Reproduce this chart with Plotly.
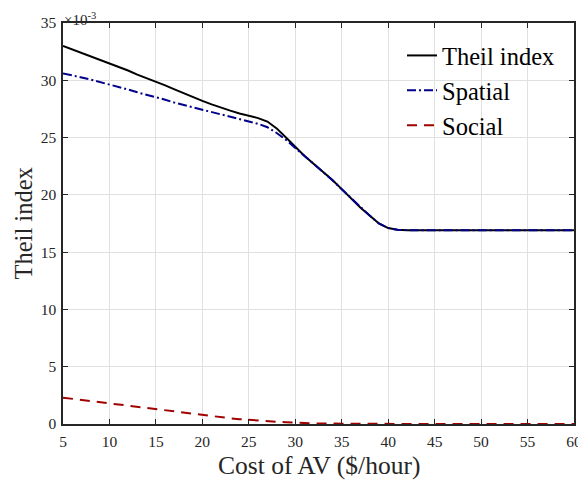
import plotly.graph_objects as go

cost = list(range(5, 61))
theil = [33.0, 32.7, 32.4, 32.1, 31.8, 31.5, 31.2, 30.85, 30.5, 30.2,
         29.9, 29.55, 29.2, 28.85, 28.5, 28.2, 27.9, 27.6, 27.35, 27.1,
         26.9, 26.7, 26.4, 25.8, 25.0, 24.2, 23.4, 22.7, 22.0, 21.3,
         20.5, 19.7, 18.9, 18.2, 17.5, 17.1, 16.95] + [16.9] * 19
spatial = [30.6, 30.45, 30.25, 30.05, 29.85, 29.6, 29.4, 29.2, 28.95, 28.75,
           28.5, 28.3, 28.05, 27.85, 27.6, 27.4, 27.2, 27.0, 26.8, 26.6,
           26.4, 26.2, 25.9, 25.4, 24.8, 24.1, 23.35, 22.65, 21.98, 21.28,
           20.49, 19.7, 18.9, 18.2, 17.5, 17.1, 16.95] + [16.9] * 19
social = [2.3, 2.2, 2.1, 2.0, 1.9, 1.8, 1.7, 1.55, 1.45, 1.35,
          1.25, 1.15, 1.05, 0.95, 0.85, 0.75, 0.65, 0.57, 0.5, 0.42,
          0.35, 0.3, 0.25, 0.2, 0.15, 0.1, 0.07, 0.05, 0.04, 0.03,
          0.02, 0.01] + [0.0] * 24
xticks = list(range(5, 61, 5))
yticks = list(range(0, 36, 5))

FONT = "Liberation Serif"
OFF = 8  # page body margin
L, R, T, B = 63 - OFF, 12, 23 - OFF, 59
W, H = 586 - OFF, 483 - OFF
PW, PH = W - L - R, H - T - B

fig = go.Figure()
fig.add_trace(go.Scatter(x=cost, y=theil, mode="lines", name="Theil index",
                         line=dict(color="black", width=2)))
fig.add_trace(go.Scatter(x=cost, y=spatial, mode="lines", name="Spatial",
                         line=dict(color="#00008B", width=2, dash="9px,3px,2px,3px")))
fig.add_trace(go.Scatter(x=cost, y=social, mode="lines", name="Social",
                         line=dict(color="#A00000", width=2, dash="10px,7px")))

axis_common = dict(showline=True, linecolor="#262626", linewidth=1.5, mirror="ticks",
                   ticks="inside", ticklen=5, tickcolor="#262626",
                   showgrid=True, gridcolor="#E0E0E0", gridwidth=1.2,
                   zeroline=False, automargin=False,
                   tickfont=dict(family=FONT, size=15.5, color="#262626"))

fig.update_layout(
    width=W, height=H,
    margin=dict(l=L, r=R, t=T, b=B),
    paper_bgcolor="white", plot_bgcolor="white",
    font=dict(family=FONT, color="#262626"),
    xaxis=dict(range=[5, 60], tickvals=xticks, ticklabelstandoff=3, **axis_common),
    yaxis=dict(range=[0, 35], tickvals=yticks, ticklabelstandoff=2, **axis_common),
    legend=dict(x=(402 - 63) / PW, y=(PH - 10) / PH, xanchor="left", yanchor="top",
                bgcolor="rgba(255,255,255,0)", borderwidth=0,
                font=dict(family=FONT, size=24.5, color="black"),
                tracegroupgap=0),
    showlegend=True,
)
fig.add_annotation(xref="paper", yref="paper", x=0.0, y=1.0, xanchor="left", yanchor="bottom",
                   text="×10<sup>-3</sup>", showarrow=False, borderpad=0,
                   font=dict(family=FONT, size=15, color="#262626"), yshift=-6)
fig.add_annotation(xref="paper", yref="paper", x=0.5, y=-(465 - 424) / PH,
                   xanchor="center", yanchor="middle", text="Cost of AV ($/hour)",
                   showarrow=False, font=dict(family=FONT, size=25.5, color="#262626"))
fig.add_annotation(xref="paper", yref="paper", x=-(63 - 23) / PW, y=0.5,
                   xanchor="center", yanchor="middle", text="Theil index", textangle=-90,
                   showarrow=False, font=dict(family=FONT, size=24.5, color="#262626"))

fig.write_html("out.html")
